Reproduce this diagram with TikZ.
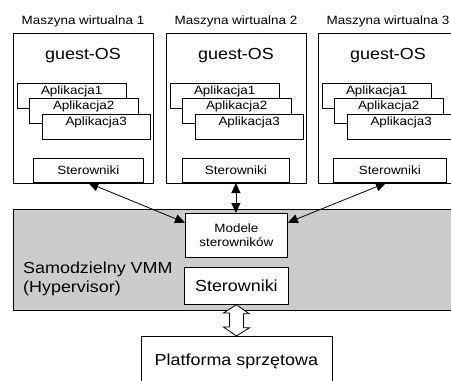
\documentclass[tikz,border=0pt]{standalone}
\usepackage{fontspec}
\setmainfont{Liberation Sans}[FakeStretch=1.12]
\usetikzlibrary{arrows.meta,calc}
\definecolor{vmmgray}{HTML}{CCCCCC}
\begin{document}
\begin{tikzpicture}[x=1pt,y=-1pt,
  box/.style={draw=black,line width=0.8pt,fill=white,inner sep=0pt,anchor=north west},
  small/.style={font=\fontsize{12}{14}\selectfont},
  big/.style={font=\fontsize{16}{19}\selectfont},
  appbox/.style={box,small,minimum width=108.5pt,minimum height=25pt,
    text height=8.5pt,text depth=11.5pt},
  drvbox/.style={box,small,anchor=south west,minimum height=24pt},
  link/.style={line width=0.8pt,
    {Triangle[length=10pt,width=9pt]}-{Triangle[length=10pt,width=9pt]}},
]
\path[use as bounding box] (0,0) rectangle (451,381);
\clip (0,0) rectangle (451,381);

% three virtual machines: frame, title, guest OS, stacked applications, drivers
\foreach \i/\x/\dx/\dw in {1/13/33/110,2/166/182/107,3/318/333/113}{
  \node[box,minimum width=140pt,minimum height=150pt] (vm\i) at (\x,33) {};
  \node[small,anchor=base,inner sep=0pt] (title\i) at (\x+70,24) {Maszyna wirtualna \i};
  \node[big,anchor=base,inner sep=0pt] (os\i) at (\x+70,59) {guest-OS};
  \node[appbox] (a\i-1) at (\x+4,83) {Aplikacja1};
  \node[appbox] (a\i-2) at (\x+16,98) {Aplikacja2};
  \node[appbox] (a\i-3) at (\x+28.5,114) {Aplikacja3};
  \node[drvbox,minimum width=\dw pt] (s\i) at (\dx,183) {Sterowniki};
}

% stand-alone VMM layer
\node[box,fill=vmmgray,minimum width=460pt,minimum height=101pt] (vmm) at (13,209) {};
\node[big,anchor=north west,align=left,inner sep=0pt] (vmmtext) at (23,261.5)
  {Samodzielny VMM\\(Hypervisor)};
\node[box,small,align=center,minimum width=102pt,minimum height=44pt] (mod) at (185,213)
  {Modele\\sterowników};
\node[box,big,minimum width=104pt,minimum height=37pt] (hs) at (184,267) {Sterowniki};

% hardware platform
\node[box,big,minimum width=191pt,minimum height=50pt] (plat) at (140.5,336)
  {Platforma sprzętowa};

% links between guest drivers and driver models
\draw[link] (s1.south) -- (mod.166);
\draw[link] (s2.south) -- (s2.south |- mod.north);
\draw[link] ([xshift=-4pt]s3.south) -- (mod.14);

% wide two-way arrow between VMM drivers and hardware
\draw[line width=0.8pt,fill=white] (hs.south) -- ++(13,9) -- ++(-6,0) -- ++(0,14)
  -- ++(6,0) -- (plat.north) -- ++(-13,-9) -- ++(6,0) -- ++(0,-14) -- ++(-6,0) -- cycle;
\end{tikzpicture}
\end{document}
